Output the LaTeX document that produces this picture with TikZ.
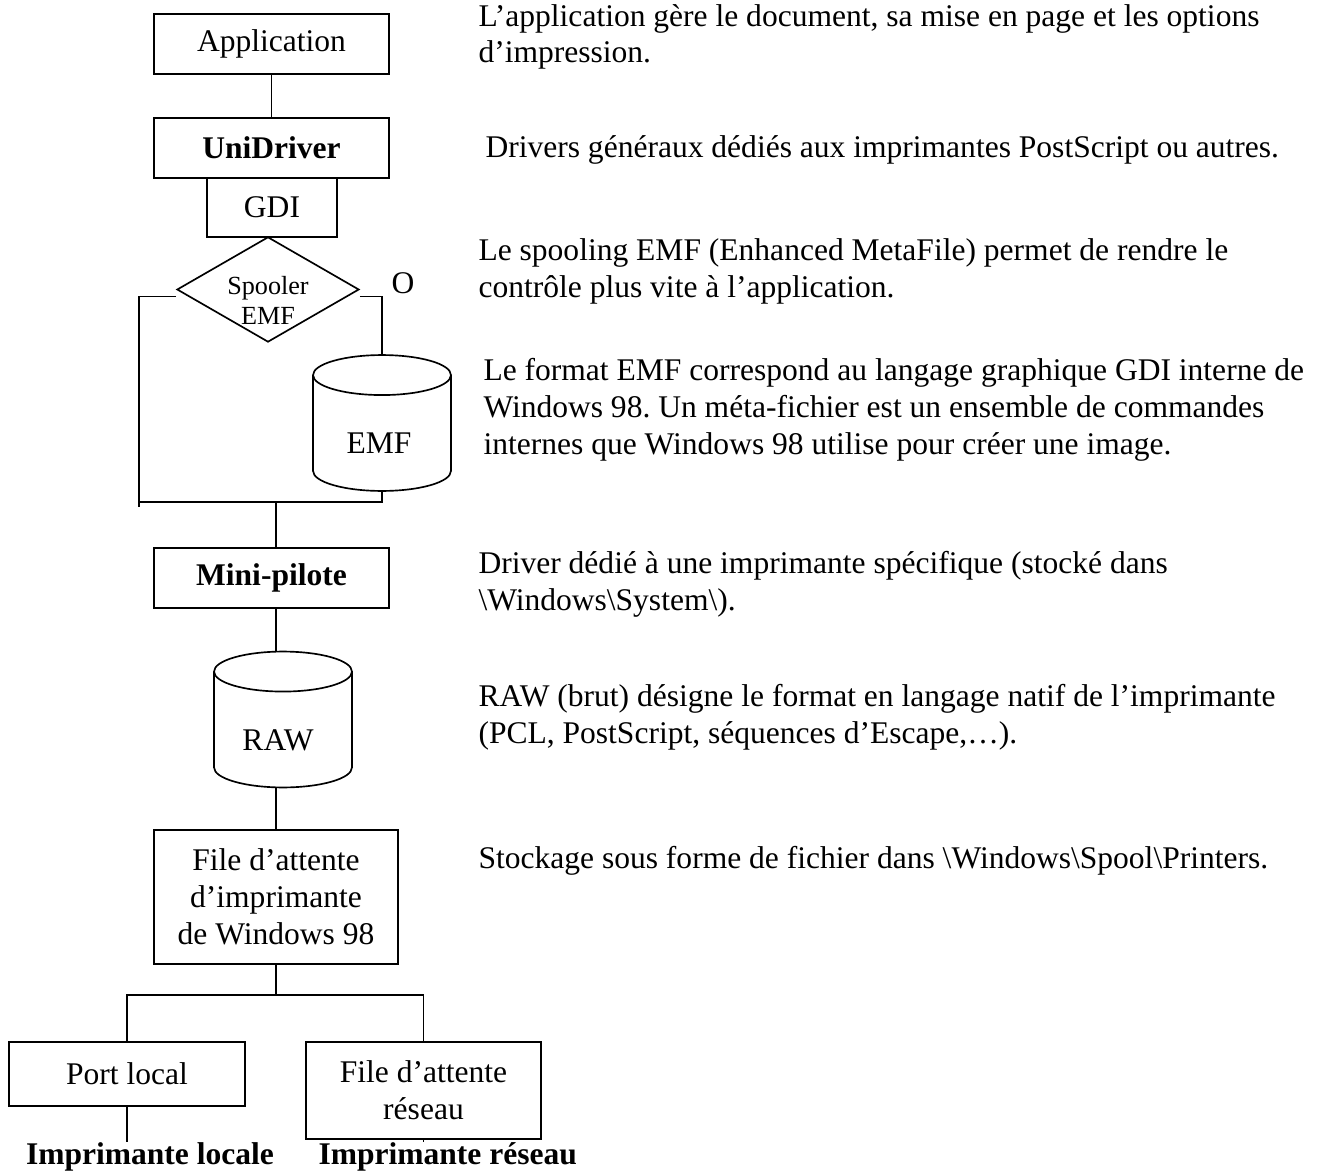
\documentclass[tikz,border=0pt]{standalone}
\usepackage{fontspec}
\setmainfont{Liberation Serif}
\usetikzlibrary{shapes.geometric}
\frenchspacing

\newcommand{\police}{\fontsize{12.3}{14.4}\selectfont}
\newcommand{\cuve}[1]{%
  \draw[trait] ([yshift=-7.8pt]#1.north) ellipse [x radius=26.9pt, y radius=7.8pt];
  \draw[trait] ([yshift=-7.8pt]#1.north west) -- ([yshift=7.8pt]#1.south west)
    arc[start angle=180, end angle=360, x radius=26.9pt, y radius=7.8pt]
    -- ([yshift=-7.8pt]#1.north east);
}

\tikzset{
  trait/.style={line width=0.65pt},
  boite/.style={draw, trait, inner sep=0pt, minimum width=91.65pt, minimum height=23.4pt, align=center},
  losange/.style={draw, trait, diamond, inner sep=0pt, minimum width=71pt, minimum height=41pt},
  tambour/.style={inner sep=0pt, outer sep=0pt, minimum width=53.8pt, minimum height=53pt},
  note/.style={anchor=base west, align=left, inner sep=0pt},
  petit/.style={font=\fontsize{10.2}{11.7}\selectfont, align=center, inner sep=0pt},
  gras/.style={font=\police\bfseries}
}

\begin{document}
\begin{tikzpicture}[x=0.39pt,y=-0.39pt,font=\police]
  \useasboundingbox (0,0) rectangle (1332,1173);

  % colonne principale
  \node[boite] (app) at (271.5,44) {Application};
  \node[boite,gras] (uni) at (271.5,148) {UniDriver};
  \node[boite,minimum width=50.7pt,minimum height=23pt] (gdi) at (272,207.5) {GDI};
  \node[losange] (spool) at (268,289.5) {};
  \node[petit] (spooltxt) at (268,300) {Spooler\\EMF};
  \node (oui) at (403,283) {O};
  \node[tambour] (emf) at (382,423) {};
  \node (emftxt) at (379,443) {EMF};
  \coordinate (merge) at (276,502);
  \coordinate (gauche) at (139,507);
  \node[boite,gras] (mini) at (271.5,578) {Mini-pilote};
  \node[tambour] (raw) at (283,719.5) {};
  \node (rawtxt) at (278,740) {RAW};
  \node[boite,minimum width=95.2pt,minimum height=52.3pt] (queue) at (276,897) {File d’attente\\d’imprimante\\de Windows 98};
  \coordinate (fork) at (276,995);
  \node[boite,minimum width=92pt,minimum height=25pt] (port) at (127,1074) {Port local};
  \node[boite,minimum height=37.8pt] (netq) at (423.5,1090.5) {File d’attente\\réseau};
  \node[gras,anchor=base,inner sep=0pt] (loc) at (150,1164) {Imprimante locale};
  \node[gras,anchor=base west,inner sep=0pt] (res) at (318,1164) {Imprimante réseau};

  \cuve{emf}
  \cuve{raw}

  % liaisons
  \draw[trait] (app) -- (uni);
  \draw[trait] (spool.west) ++(0,7) -| (gauche);
  \draw[trait] (spool.east) ++(0,7) -| (emf.north);
  \draw[trait] (emf.south) |- (gauche |- merge);
  \draw[trait] (merge) -- (merge |- mini.north);
  \draw[trait] (merge |- mini.south) -- (merge |- raw.north);
  \draw[trait] (merge |- raw.south) -- (queue);
  \draw[trait] (queue) -- (fork);
  \draw[trait] (port.north) |- (fork) -| (netq.north);
  \draw[trait] (port.south) -- (port.south |- loc.north);
  \draw[trait] (netq.south) -- (netq.south |- res.north);

  % commentaires (ancre sur la derniere ligne)
  \node[note] (n1) at (478,63) {L’application gère le document, sa mise en page et les options\\d’impression.};
  \node[note] (n2) at (485,157) {Drivers généraux dédiés aux imprimantes PostScript ou autres.};
  \node[note] (n3) at (478,297) {Le spooling EMF (Enhanced MetaFile) permet de rendre le\\contrôle plus vite à l’application.};
  \node[note] (n4) at (483,454) {Le format EMF correspond au langage graphique GDI interne de\\Windows 98. Un méta-fichier est un ensemble de commandes\\internes que Windows 98 utilise pour créer une image.};
  \node[note] (n5) at (478,610) {Driver dédié à une imprimante spécifique (stocké dans\\\textbackslash Windows\textbackslash System\textbackslash).};
  \node[note] (n6) at (478,743) {RAW (brut) désigne le format en langage natif de l’imprimante\\(PCL, PostScript, séquences d’Escape,…).};
  \node[note] (n7) at (478,868) {Stockage sous forme de fichier dans \textbackslash Windows\textbackslash Spool\textbackslash Printers.};
\end{tikzpicture}
\end{document}
